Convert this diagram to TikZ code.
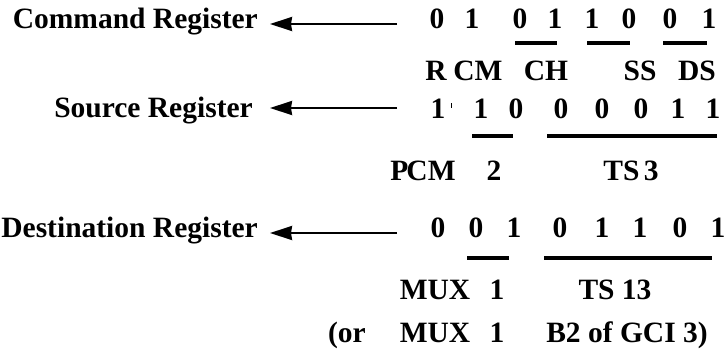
\documentclass[tikz,border=0pt]{standalone}
\usepackage{fontspec}
\setmainfont{Liberation Serif}
\usetikzlibrary{arrows.meta}
\begin{document}
\begin{tikzpicture}[x=1bp,y=-1bp,
  txt/.style={font=\fontsize{29.5bp}{30bp}\selectfont\bfseries, inner sep=0pt, anchor=base},
  reg/.style={txt, anchor=base east},
  bar/.style={line width=4bp},
  arr/.style={line width=2.2bp, -{Stealth[length=22bp,width=14bp,inset=1bp]}}]
\useasboundingbox (0,0) rectangle (728,359);
% left labels
\node[reg] (cmd) at (258,28) {Command Register};
\node[reg] (src) at (253,117) {Source Register};
\node[reg] (dst) at (258,237) {Destination Register};
% arrows
\coordinate (c1s) at (397,24);  \coordinate (c1e) at (270,24);
\coordinate (c2s) at (397,108); \coordinate (c2e) at (270,108);
\coordinate (c3s) at (397,233); \coordinate (c3e) at (270,233);
\draw[arr] (c1s) -- (c1e);
\draw[arr] (c2s) -- (c2e);
\draw[arr] (c3s) -- (c3e);
% row 1 digits
\foreach \x/\d [count=\i] in {437/0,472/1,520/0,555/1,592/1,629/0,670/0,709/1}
  \node[txt] (a\i) at (\x,28) {\d};
\draw[bar] (515,43) -- (557,43);
\draw[bar] (587,43) -- (630,43);
\draw[bar] (663,43) -- (707,43);
% row 2 labels
\node[txt] (lR)  at (436,80) {R};
\node[txt] (lCM) at (478,80) {CM};
\node[txt] (lCH) at (546,80) {CH};
\node[txt] (lSS) at (640,80) {SS};
\node[txt] (lDS) at (697,80) {DS};
% row 3 digits
\foreach \x/\d [count=\i] in {438/1,481/1,516/0,561/0,602/0,641/0,678/1,713/1}
  \node[txt] (b\i) at (\x,118) {\d};
\draw[line width=0.8bp] (451,103) -- (451,108);
\draw[bar] (472,136) -- (513,136);
\draw[bar] (547,136) -- (717,136);
% row 4 labels
\node[txt] (lPCM) at (423,180) {P\kern-2bp CM};
\node[txt] (l2)   at (494,180) {2};
\node[txt] (lTS3) at (631,180) {TS\kern-3bp\ 3};
% row 5 digits
\foreach \x/\d [count=\i] in {438/0,476/0,514/1,560/0,602/1,640/1,680/0,718/1}
  \node[txt] (c\i) at (\x,237) {\d};
\draw[bar] (467,258) -- (509,258);
\draw[bar] (544,258) -- (712,258);
% row 6 labels
\node[txt] (lMUX) at (435,299) {MUX};
\node[txt] (l1)   at (497,299) {1};
\node[txt] (lTS13) at (615,299) {TS 13};
% row 7
\node[txt] (lor)   at (347,342) {(or};
\node[txt] (lMUX2) at (435,342) {MUX};
\node[txt] (l1b)   at (497,342) {1};
\node[txt] (lB2)   at (627,342) {B2 of GCI 3)};
\end{tikzpicture}
\end{document}
